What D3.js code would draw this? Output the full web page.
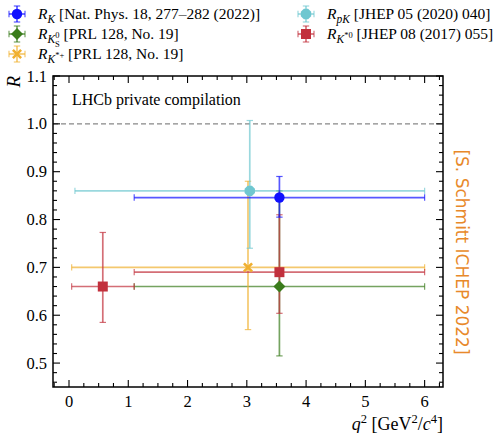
<!DOCTYPE html>
<html>
<head>
<meta charset="utf-8">
<script src="https://cdn.jsdelivr.net/npm/d3@7"></script>
<style>
  body { margin: 0; background: #fff; }
  svg { display: block; }
</style>
</head>
<body>
<svg id="chart" width="493" height="433" font-family="'Liberation Serif', 'DejaVu Serif', serif"></svg>
<script>
// measurements, one entry per point
var names   = ['RK', 'RKS', 'RKstp', 'RpK', 'RKst0', 'RKst0'];
var colors  = ['#1010ff', '#3b7c1c', '#f0b030', '#6fc7d0', '#c2303c', '#c2303c'];
var shapes  = ['circle', 'diamond', 'x', 'octagon', 'square', 'square'];
var xCenter = [3.55, 3.55, 3.02, 3.05, 0.57, 3.55];
var xLo     = [1.1, 1.1, 0.045, 0.1, 0.045, 1.1];
var xHi     = [6.0, 6.0, 6.0, 6.0, 1.1, 6.0];
var yVal    = [0.846, 0.66, 0.70, 0.86, 0.66, 0.69];
var yUp     = [0.044, 0.20, 0.18, 0.147, 0.113, 0.12];
var yDn     = [0.041, 0.145, 0.13, 0.12, 0.075, 0.086];
// bars drawn in this order, markers afterwards
var barOrder = [1, 2, 3, 4, 5, 0];

var xTicks = [0, 1, 2, 3, 4, 5, 6];
var yTicks = [0.5, 0.6, 0.7, 0.8, 0.9, 1.0, 1.1];

var legendRefs = ['[Nat. Phys. 18, 277\u2013282 (2022)]', '[PRL 128, No. 19]', '[PRL 128, No. 19]',
                  '[JHEP 05 (2020) 040]', '[JHEP 08 (2017) 055]'];

var SERIF = "'Liberation Serif', 'DejaVu Serif', serif";
var svg = d3.select('#chart');
var L = 53, R = 443, T = 76, B = 387;

var x = d3.scaleLinear().domain([-0.27, 6.31]).range([L, R]);
var y = d3.scaleLinear().domain([0.45, 1.1]).range([B, T]);

// reference line at R = 1
svg.append('line')
    .attr('x1', L).attr('x2', R)
    .attr('y1', y(1)).attr('y2', y(1))
    .attr('stroke', '#888').attr('stroke-width', 1.1)
    .attr('stroke-dasharray', '5,3');

function markerPath(shape) {
    if (shape === 'circle') return d3.symbol(d3.symbolCircle, Math.PI * 5.2 * 5.2)();
    if (shape === 'square') return 'M-5,-5H5V5H-5Z';
    if (shape === 'diamond') return 'M0,-6L6,0L0,6L-6,0Z';
    if (shape === 'x') {
        // filled x
        return 'M-5,-3.2L-3.2,-5L0,-1.8L3.2,-5L5,-3.2L1.8,0L5,3.2L3.2,5L0,1.8L-3.2,5L-5,3.2L-1.8,0Z';
    }
    if (shape === 'octagon') {
        let pts = d3.range(8).map(function(i) {
            let a = Math.PI / 8 + i * Math.PI / 4;
            return [5.6 * Math.cos(a), 5.6 * Math.sin(a)];
        });
        return 'M' + pts.join('L') + 'Z';
    }
}

function errorBar(g, cx, cy, x0, x1, y0, y1, color) {
    let cap = 3.2;
    let bars = g.append('g').attr('stroke', color).attr('stroke-width', 1.7)
        .attr('stroke-opacity', 0.7).attr('fill', 'none');
    bars.append('line').attr('x1', x0).attr('x2', x1).attr('y1', cy).attr('y2', cy);
    bars.append('line').attr('x1', cx).attr('x2', cx).attr('y1', y0).attr('y2', y1);
    bars.append('line').attr('x1', x0).attr('x2', x0).attr('y1', cy - cap).attr('y2', cy + cap).attr('stroke-width', 1.2);
    bars.append('line').attr('x1', x1).attr('x2', x1).attr('y1', cy - cap).attr('y2', cy + cap).attr('stroke-width', 1.2);
    bars.append('line').attr('x1', cx - cap).attr('x2', cx + cap).attr('y1', y0).attr('y2', y0).attr('stroke-width', 1.2);
    bars.append('line').attr('x1', cx - cap).attr('x2', cx + cap).attr('y1', y1).attr('y2', y1).attr('stroke-width', 1.2);
}

let dataG = svg.append('g');
barOrder.forEach(function(i) {
    errorBar(dataG, x(xCenter[i]), y(yVal[i]), x(xLo[i]), x(xHi[i]),
             y(yVal[i] + yUp[i]), y(yVal[i] - yDn[i]), colors[i]);
});
barOrder.forEach(function(i) {
    dataG.append('path')
        .attr('d', markerPath(shapes[i]))
        .attr('transform', 'translate(' + x(xCenter[i]) + ',' + y(yVal[i]) + ')')
        .attr('fill', colors[i]);
});

// frame and ticks (inside, all four sides)
let axG = svg.append('g').attr('stroke', '#000');
let xMinor = d3.range(-0.25, 6.31, 0.25);
let yMinor = d3.range(0.46, 1.1, 0.02);
xMinor.forEach(function(v) {
    let major = Math.abs(v - Math.round(v)) < 1e-6;
    let len = major ? 7 : 4;
    axG.append('line').attr('x1', x(v)).attr('x2', x(v)).attr('y1', B).attr('y2', B - len).attr('stroke-width', 1.1);
    axG.append('line').attr('x1', x(v)).attr('x2', x(v)).attr('y1', T).attr('y2', T + len).attr('stroke-width', 1.1);
});
yMinor.forEach(function(v) {
    let major = Math.abs(v * 10 - Math.round(v * 10)) < 1e-6;
    let len = major ? 7 : 4;
    axG.append('line').attr('y1', y(v)).attr('y2', y(v)).attr('x1', L).attr('x2', L + len).attr('stroke-width', 1.1);
    axG.append('line').attr('y1', y(v)).attr('y2', y(v)).attr('x1', R).attr('x2', R - len).attr('stroke-width', 1.1);
});
svg.append('rect').attr('x', L).attr('y', T).attr('width', R - L).attr('height', B - T)
    .attr('fill', 'none').attr('stroke', '#000').attr('stroke-width', 1.5);

svg.append('g').selectAll('text').data(xTicks).enter().append('text')
    .attr('x', function(d) { return x(d); }).attr('y', 407)
    .attr('text-anchor', 'middle').attr('font-size', 16.5).style('font-family', SERIF)
    .text(function(d) { return d; });
svg.append('g').selectAll('text').data(yTicks).enter().append('text')
    .attr('x', 47).attr('y', function(d) { return y(d) + 5.5; })
    .attr('text-anchor', 'end').attr('font-size', 16.5).style('font-family', SERIF)
    .text(function(d) { return d.toFixed(1); });

// axis labels
let xl = svg.append('text').attr('x', R).attr('y', 430).attr('text-anchor', 'end')
    .attr('font-size', 18).style('font-family', SERIF);
xl.append('tspan').attr('font-style', 'italic').text('q');
xl.append('tspan').attr('font-size', 12.5).attr('dy', -7).text('2');
xl.append('tspan').attr('dy', 7).text(' [GeV');
xl.append('tspan').attr('font-size', 12.5).attr('dy', -7).text('2');
xl.append('tspan').attr('dy', 7).text('/');
xl.append('tspan').attr('font-style', 'italic').text('c');
xl.append('tspan').attr('font-size', 12.5).attr('dy', -7).text('4');
xl.append('tspan').attr('dy', 7).text(']');

svg.append('text').attr('transform', 'translate(20,' + T + ') rotate(-90)')
    .attr('text-anchor', 'end').attr('font-size', 19).attr('font-style', 'italic')
    .style('font-family', SERIF).text('R');

svg.append('text').attr('x', 72).attr('y', 105).attr('font-size', 16)
    .style('font-family', SERIF).text('LHCb private compilation');

svg.append('text').attr('transform', 'translate(456,252) rotate(90)')
    .attr('text-anchor', 'middle').attr('font-size', 17)
    .attr('fill', '#e8892a').style('font-family', '"DejaVu Sans", sans-serif')
    .text('[S. Schmitt ICHEP 2022]');

// legend
let subs = [
    [['K', 0, 'i']],
    [['K', 0, 'i'], ['0', -5, 'n'], ['S', 8, 'n']],
    [['K', 0, 'i'], ['*+', -5, 'n']],
    [['pK', 0, 'i']],
    [['K', 0, 'i'], ['*0', -5, 'n']]
];
let legPos = [[17, 14], [17, 34], [17, 54], [306, 14], [306, 34]];
let legIdx = [0, 1, 2, 3, 4];
legIdx.forEach(function(i, k) {
    let lx = legPos[k][0], ly = legPos[k][1];
    let g = svg.append('g');
    errorBar(g, lx, ly, lx - 8, lx + 8, ly - 8, ly + 8, colors[i]);
    g.append('path').attr('d', markerPath(shapes[i]))
        .attr('transform', 'translate(' + lx + ',' + ly + ')').attr('fill', colors[i]);
    let t = svg.append('text').attr('x', lx + 21).attr('y', ly + 5).attr('font-size', 15.5)
        .style('font-family', SERIF);
    t.append('tspan').attr('font-style', 'italic').text('R');
    let base = 4;
    let cur = 0;
    subs[k].forEach(function(s, j) {
        let target = base + s[1];
        if (j === 2) target = base + 4;
        let tsp = t.append('tspan').attr('dy', target - cur)
            .attr('font-size', s[1] === 0 ? 11.5 : 8.5).text(s[0]);
        if (s[2] === 'i') tsp.attr('font-style', 'italic');
        if (j === 2) tsp.attr('dx', -4.5);
        cur = target;
    });
    t.append('tspan').attr('dy', -cur).text(' ' + legendRefs[k]);
});
</script>
</body>
</html>
